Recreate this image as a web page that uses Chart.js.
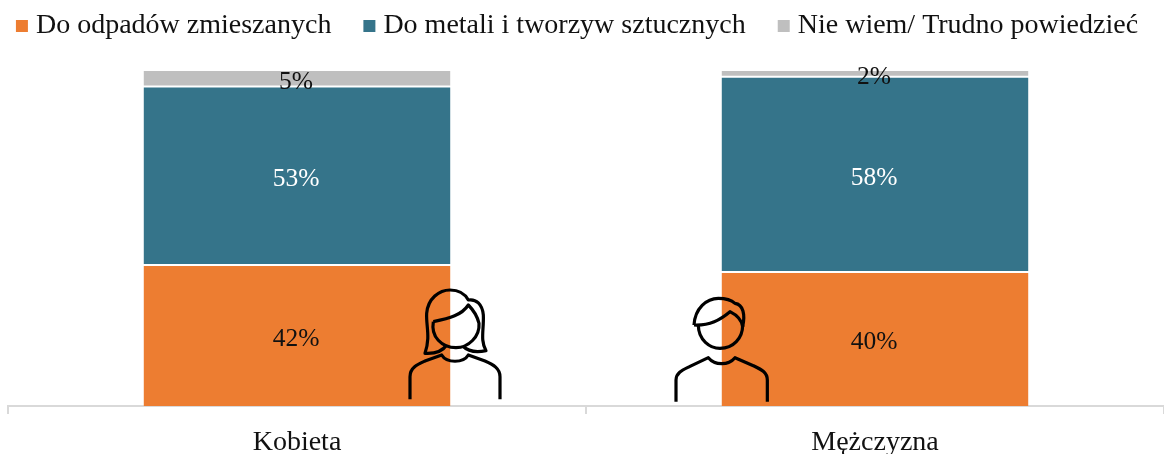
<!DOCTYPE html>
<html><head><meta charset="utf-8">
<style>html,body{margin:0;padding:0;background:#fff}canvas{display:block}</style>
<script src="https://cdn.jsdelivr.net/npm/chart.js@4"></script>
</head><body><canvas id="c" width="1164" height="454"></canvas>
<script>
const categories = ["Kobieta", "Mężczyzna"];
const mixedWaste = [42.1, 40];
const metalPlastic = [53.3, 58.3];
const dontKnow = [4.6, 1.7];
const seriesNames = ["Do odpadów zmieszanych", "Do metali i tworzyw sztucznych", "Nie wiem/ Trudno powiedzieć"];
const seriesColors = ["#ED7D31", "#35748A", "#BFBFBF"];
const labelColors = ["#111111", "#FFFFFF", "#111111"];
const FONT = '"Liberation Serif","Times New Roman",serif';

const womanIcon = {ox:400, oy:280, paths:[
 [[30,358],[30,290],[30,262,55,252,75,243],[125,225],[140,250,190,250,205,225],[255,243],[280,254,300,265,300,290],[300,358]],
 [[140,195],[130,210,110,222,75,220],[92,170,78,140,80,100],[84,55,118,30,150,30],[175,30,195,42,205,60],[228,56,247,72,250,105],[252,150,240,180,258,212],[230,218,205,215,188,198]],
 [[100,125],[150,115,185,105,205,75],[225,95,232,110,237,130],[240,170,205,203,168,203],[125,203,92,170,100,125]]
]};
const manIcon = {ox:660, oy:285, paths:[
 [[48,350],[48,285],[48,262,70,254,90,244],[145,218],[165,242,205,242,225,218],[280,242],[305,254,322,262,322,285],[322,350]],
 [[102,120],[105,70,140,40,175,40],[200,40,215,46,225,55],[250,58,256,90,248,125]],
 [[102,120],[150,122,180,105,210,80],[230,90,245,105,248,125]],
 [[115,120],[115,165,150,190,180,190],[220,190,248,160,248,120]]
]};
function drawIcon(ctx, icon){
  ctx.save();
  ctx.strokeStyle="#000"; ctx.lineWidth=3.2; ctx.lineCap="butt"; ctx.lineJoin="round";
  const X=v=>icon.ox+v/3, Y=v=>icon.oy+v/3;
  for(const p of icon.paths){
    ctx.beginPath();
    p.forEach((s,i)=>{
      if(i===0) ctx.moveTo(X(s[0]),Y(s[1]));
      else if(s.length===2) ctx.lineTo(X(s[0]),Y(s[1]));
      else ctx.bezierCurveTo(X(s[0]),Y(s[1]),X(s[2]),Y(s[3]),X(s[4]),Y(s[5]));
    });
    ctx.stroke();
  }
  ctx.restore();
}
const LEGEND_HEIGHT=71, LEGEND_TOP=-26, LEGEND_LEFT=-40, LEGEND_RIGHT=1200;
const helper = {
  id:"helper",
  beforeLayout(chart){
    const l=chart.legend;
    if(l && !l.__w){
      const f=l.fit;
      l.fit=function(){ const m=this.maxWidth; this.maxWidth=3000; f.call(this); this.maxWidth=m; this.width=m; this.height=LEGEND_HEIGHT; };
      l.__w=true;
    }
  },
  afterLayout(chart){
    const l=chart.legend;
    l.top=LEGEND_TOP; l.left=LEGEND_LEFT; l.right=LEGEND_RIGHT;
  },
  afterDatasetsDraw(chart){
    const ctx=chart.ctx;
    ctx.save();
    ctx.font='25.5px '+FONT; ctx.textAlign="center"; ctx.textBaseline="middle";
    chart.data.datasets.forEach((ds,i)=>{
      chart.getDatasetMeta(i).data.forEach((el,j)=>{
        ctx.fillStyle=labelColors[i];
        ctx.fillText(Math.round(ds.data[j])+"%", el.x-1, (el.y+el.base)/2+3.5);
      });
    });
    ctx.restore();
    drawIcon(ctx,womanIcon); drawIcon(ctx,manIcon);
  }
};
const barSeries=[mixedWaste,metalPlastic,dontKnow];
const borders=[{top:1},{top:1,bottom:1},{bottom:1}];
new Chart(document.getElementById("c"),{
  type:"bar",
  data:{labels:categories,datasets:barSeries.map((d,i)=>({
    label:seriesNames[i],data:d,backgroundColor:seriesColors[i],
    borderColor:"#FFFFFF",borderWidth:borders[i],borderSkipped:false,
    categoryPercentage:1,barPercentage:0.531
  }))},
  options:{
    responsive:false,animation:false,
    layout:{padding:{left:8,right:0,top:0,bottom:0}},
    plugins:{
      tooltip:{enabled:false},
      legend:{position:"top",labels:{
        color:"#111111",font:{family:FONT,size:28},
        usePointStyle:true,pointStyle:"rect",boxWidth:0.01,boxHeight:12,padding:38,
        generateLabels(chart){
          return Chart.defaults.plugins.legend.labels.generateLabels(chart).map(x=>Object.assign(x,{lineWidth:0,strokeStyle:"transparent",pointStyle:"rect"}));
        }
      }}
    },
    scales:{
      x:{stacked:true,
        grid:{drawOnChartArea:false,drawTicks:true,tickLength:8,color:"#D9D9D9",lineWidth:2,offset:true},
        border:{display:true,color:"#D9D9D9",width:2},
        ticks:{color:"#111111",font:{family:FONT,size:28},padding:12,maxRotation:0},
        afterFit(s){s.height=48;}
      },
      y:{stacked:true,display:false,min:0,max:100}
    }
  },
  plugins:[helper]
});
</script></body></html>
